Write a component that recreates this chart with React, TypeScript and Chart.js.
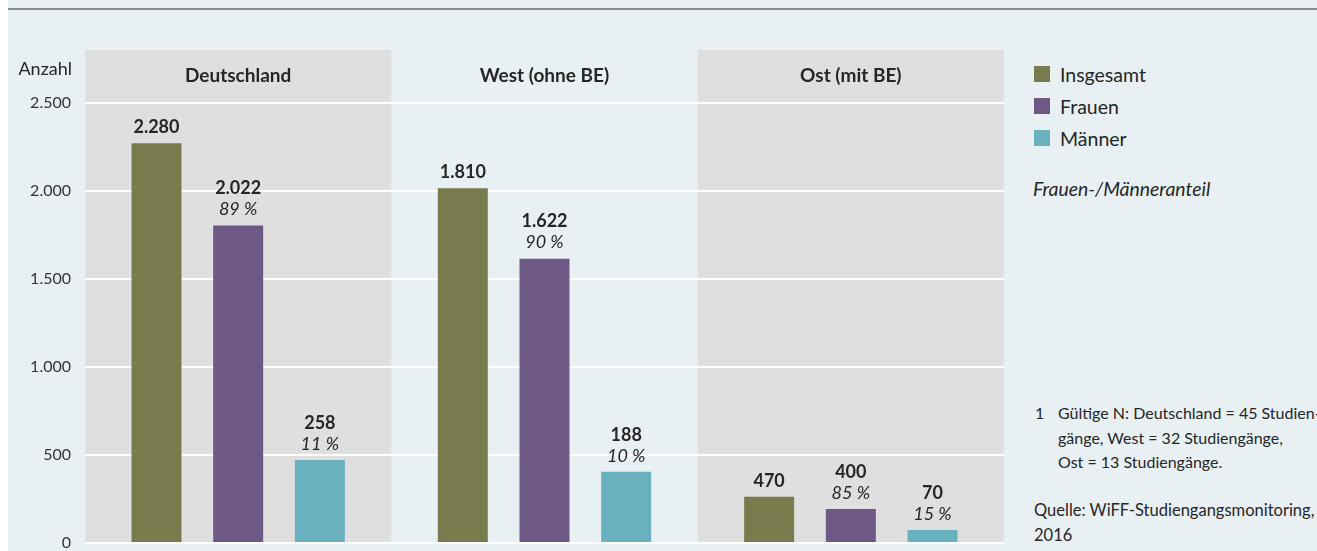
import React, { useEffect, useRef } from "react";
import { Chart, registerables } from "chart.js";

Chart.register(...registerables);

const categories = ["Deutschland", "West (ohne BE)", "Ost (mit BE)"];
const seriesNames = ["Insgesamt", "Frauen", "Männer"];
const insgesamt = [2270, 2015, 262];
const frauen = [1803, 1615, 193];
const maenner = [472, 404, 74];
const insgesamtLabels = ["2.280", "1.810", "470"];
const frauenLabels = ["2.022", "1.622", "400"];
const maennerLabels = ["258", "188", "70"];
const frauenShare = ["89 %", "90 %", "85 %"];
const maennerShare = ["11 %", "10 %", "15 %"];
const yTicks = [0, 500, 1000, 1500, 2000, 2500];

const colors = ["#787c4d", "#6e5886", "#6ab1bf"];
const FONT = "Lato, 'Noto Sans', sans-serif";
const TEXT = "#262626";

const fmt = (v: number) => v.toLocaleString("de-DE");

const decorPlugin = {
  id: "decor",
  beforeDraw(chart: any) {
    const { ctx, chartArea, scales } = chart;
    const x = scales.x;
    const w = chartArea.width / categories.length;
    ctx.save();
    ctx.fillStyle = "#dfdfdf";
    categories.forEach((_, i) => {
      if (i === 1) return;
      const cx = x.getPixelForValue(i);
      ctx.fillRect(cx - w / 2, chartArea.top, w, chartArea.bottom - chartArea.top);
    });
    ctx.fillStyle = TEXT;
    ctx.font = `bold 19px ${FONT}`;
    ctx.textAlign = "center";
    ctx.textBaseline = "middle";
    categories.forEach((c, i) => {
      ctx.fillText(c, x.getPixelForValue(i), 76);
    });
    ctx.font = `18px ${FONT}`;
    ctx.textAlign = "right";
    ctx.fillText("Anzahl", 64, 69);
    ctx.restore();
  },
  afterDatasetsDraw(chart: any) {
    const { ctx } = chart;
    const valueLabels = [insgesamtLabels, frauenLabels, maennerLabels];
    const shareLabels = [null, frauenShare, maennerShare];
    ctx.save();
    ctx.fillStyle = TEXT;
    ctx.textAlign = "center";
    ctx.textBaseline = "middle";
    chart.data.datasets.forEach((_: any, di: number) => {
      const meta = chart.getDatasetMeta(di);
      meta.data.forEach((bar: any, i: number) => {
        const share = shareLabels[di];
        if (share) {
          ctx.font = `italic 18px ${FONT}`;
          ctx.fillText(share[i], bar.x, bar.y - 16);
          ctx.font = `bold 18px ${FONT}`;
          ctx.fillText(valueLabels[di][i], bar.x, bar.y - 37);
        } else {
          ctx.font = `bold 18px ${FONT}`;
          ctx.fillText(valueLabels[di][i], bar.x, bar.y - 16);
        }
      });
    });
    ctx.restore();
  },
};

function ChartCanvas() {
  const ref = useRef<HTMLCanvasElement>(null);
  useEffect(() => {
    if (!ref.current) return;
    const chart = new Chart(ref.current, {
      type: "bar",
      data: {
        labels: categories,
        datasets: [
          { label: seriesNames[0], data: insgesamt, backgroundColor: colors[0] },
          { label: seriesNames[1], data: frauen, backgroundColor: colors[1] },
          { label: seriesNames[2], data: maenner, backgroundColor: colors[2] },
        ],
      },
      options: {
        animation: false,
        responsive: false,
        maintainAspectRatio: false,
        layout: { padding: { top: 50, right: 4, bottom: 8, left: 0 } },
        datasets: { bar: { barPercentage: 0.612, categoryPercentage: 0.8 } },
        plugins: { legend: { display: false }, tooltip: { enabled: false } },
        scales: {
          x: { display: false },
          y: {
            min: 0,
            max: 2800,
            afterFit(scale: any) {
              scale.width = 77;
              scale.paddingTop = 0;
              scale.paddingBottom = 0;
            },
            afterBuildTicks(scale: any) {
              scale.ticks = yTicks.map((v) => ({ value: v }));
            },
            border: { display: false },
            grid: { color: "#ffffff", lineWidth: 2, drawTicks: false },
            ticks: {
              padding: 14,
              color: "#333333",
              font: { family: FONT, size: 16 },
              callback: (v: any) => fmt(Number(v)),
            },
          },
        },
      },
      plugins: [decorPlugin],
    });
    return () => chart.destroy();
  }, []);
  return <canvas ref={ref} width={1000} height={551} style={{ position: "absolute", left: 0, top: 0 }} />;
}

export default function App() {
  const legendTop = [74, 106, 138];
  return (
    <div
      style={{
        position: "absolute",
        left: 8,
        top: 0,
        width: 1309,
        height: 551,
        background: "#e8f0f3",
        overflow: "hidden",
        fontFamily: FONT,
        color: TEXT,
      }}
    >
      <div style={{ position: "absolute", left: 0, top: 8, width: 1309, height: 2, background: "#8a8d8f" }} />
      <ChartCanvas />
      {seriesNames.map((n, i) => (
        <div key={n} style={{ position: "absolute", left: 1026, top: legendTop[i] - 12, height: 24, display: "flex", alignItems: "center", whiteSpace: "nowrap" }}>
          <span style={{ display: "inline-block", width: 16, height: 16, background: colors[i], marginRight: 10 }} />
          <span style={{ fontSize: 19.5 }}>{n}</span>
        </div>
      ))}
      <div style={{ position: "absolute", left: 1025, top: 177, fontSize: 19.4, fontStyle: "italic", whiteSpace: "nowrap" }}>
        Frauen-/Männeranteil
      </div>
      <div style={{ position: "absolute", left: 1027, top: 401, fontSize: 16, lineHeight: "24.5px", whiteSpace: "nowrap" }}>
        <div style={{ display: "flex" }}>
          <span style={{ width: 23 }}>1</span>
          <span>
            Gültige N: Deutschland = 45 Studien-
            <br />
            gänge, West = 32 Studiengänge,
            <br />
            Ost = 13 Studiengänge.
          </span>
        </div>
      </div>
      <div style={{ position: "absolute", left: 1026, top: 498, fontSize: 16.5, lineHeight: "24.5px", whiteSpace: "nowrap" }}>
        Quelle: WiFF-Studiengangsmonitoring,
        <br />
        2016
      </div>
    </div>
  );
}
